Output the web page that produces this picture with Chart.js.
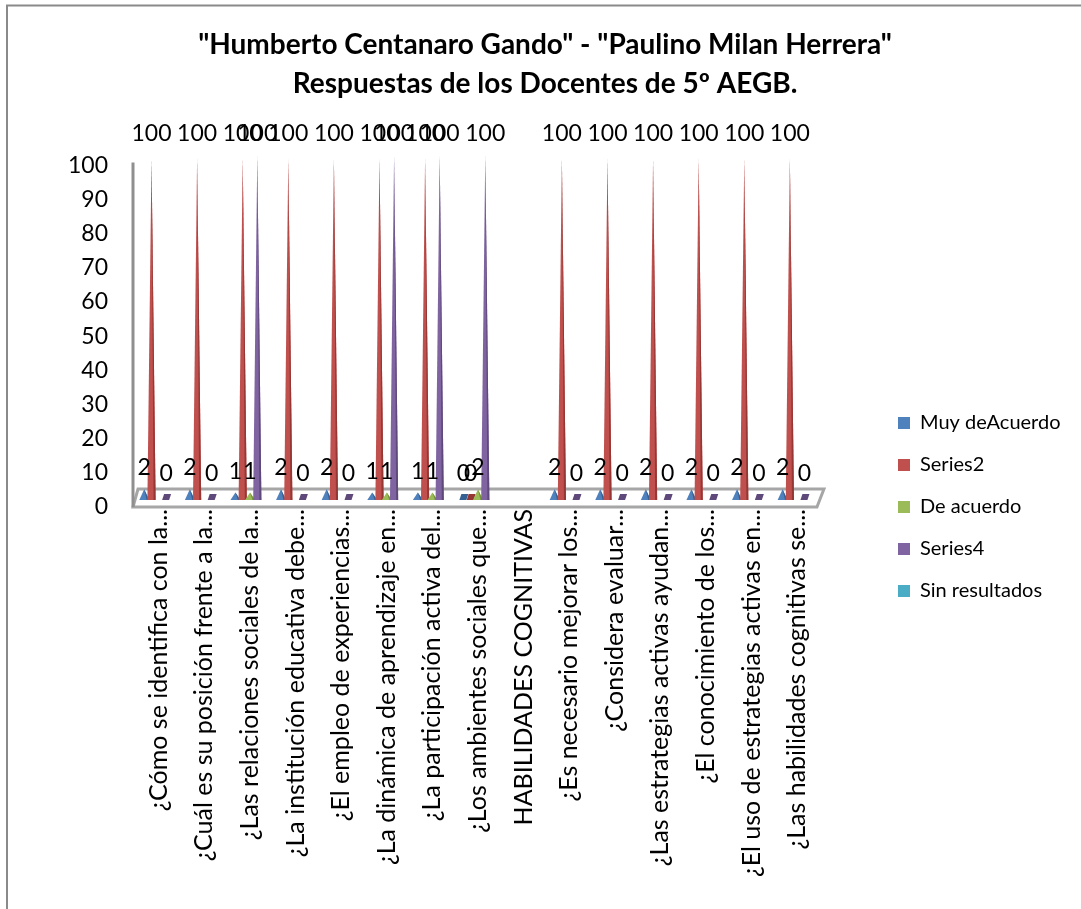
<!DOCTYPE html>
<html><head><meta charset="utf-8">
<style>html,body{margin:0;padding:0;background:#fff}canvas{display:block}</style>
<script src="https://cdn.jsdelivr.net/npm/chart.js@4"></script></head>
<body><div style="width:1081px;height:909px"><canvas id="c"></canvas></div>
<script>
const categories=["¿Cómo se identifica con la...","¿Cuál es su posición frente a la...","¿Las relaciones sociales de la...","¿La institución educativa debe...","¿El empleo de experiencias...","¿La dinámica de aprendizaje en...","¿La participación activa del...","¿Los ambientes sociales que...","HABILIDADES COGNITIVAS","¿Es necesario mejorar los...","¿Considera evaluar...","¿Las estrategias activas ayudan...","¿El conocimiento de los...","¿El uso de estrategias activas en...","¿Las habilidades cognitivas se..."];
const muyDeAcuerdo=[2,2,1,2,2,1,1,0,null,2,2,2,2,2,2];
const series2=[100,100,100,100,100,100,100,0,null,100,100,100,100,100,100];
const deAcuerdo=[null,null,1,null,null,1,1,2,null,null,null,null,null,null,null];
const series4=[0,0,100,0,0,100,100,100,null,0,0,0,0,0,0];
const sinResultados=[null,null,null,null,null,null,null,null,null,null,null,null,null,null,null];
const seriesNames=["Muy deAcuerdo","Series2","De acuerdo","Series4","Sin resultados"];
const colors=["#4F81BD","#C0504D","#9BBB59","#8064A2","#4BACC6"];
const darks=["#376092","#953735","#76923C","#5F497A","#31859C"];
const titleLines=['"Humberto Centanaro Gando" - "Paulino Milan Herrera"','Respuestas de los Docentes de 5º AEGB.'];
const FONT='Lato, Carlito, sans-serif';
const DEPTH=7;
const spikes={id:'spikes',
 beforeDraw(ch){const c=ch.ctx;c.save();c.fillStyle='#fff';c.fillRect(0,0,ch.width,ch.height);
  c.strokeStyle='#8a8a8a';c.lineWidth=2;c.beginPath();c.moveTo(7,ch.height);c.lineTo(7,5.5);c.lineTo(ch.width,5.5);c.stroke();c.restore();},
 beforeDatasetsDraw(ch){const c=ch.ctx,a=ch.chartArea,y0=ch.scales.y.getPixelForValue(0),yT=ch.scales.y.getPixelForValue(100);
  c.save();c.strokeStyle='#a6a6a6';c.lineWidth=3;c.fillStyle='#fff';c.beginPath();
  c.moveTo(a.left-3,y0);c.lineTo(a.right-3,y0);c.lineTo(a.right+4,y0-18);c.lineTo(a.left+2,y0-18);c.closePath();c.fill();c.stroke();
  c.strokeStyle='#8f8f8f';c.beginPath();c.moveTo(a.left-3,y0);c.lineTo(a.left-3,yT-3);c.stroke();c.restore();},
 beforeDatasetDraw(){return false;},
 afterDatasetsDraw(ch){const c=ch.ctx;c.save();
  ch.data.datasets.forEach((d,i)=>{ch.getDatasetMeta(i).data.forEach((el,j)=>{const v=d.data[j];if(v==null)return;
    const x=el.x,b=el.base-DEPTH,t=el.y-DEPTH-(i===3?3:0),small=v<10,w=el.width*(small?1.5:1.25);
    if(v===0){c.fillStyle=darks[i];c.beginPath();c.moveTo(x-4,b);c.lineTo(x+3,b);c.lineTo(x+5,b-6);c.lineTo(x-2,b-6);c.closePath();c.fill();return;}
    const top=t-(small?4:0);
    c.fillStyle=colors[i];c.beginPath();c.moveTo(x-w/2,b);c.lineTo(x,top);c.lineTo(x+w/2,b);c.closePath();c.fill();
    c.fillStyle=darks[i];c.beginPath();c.moveTo(x+w/4,b);c.lineTo(x,top);c.lineTo(x+w/2,b);c.closePath();c.fill();
  });});
  c.fillStyle='#000';c.font='23px '+FONT;c.textAlign='center';c.textBaseline='middle';
  ch.data.datasets.forEach((d,i)=>{ch.getDatasetMeta(i).data.forEach((el,j)=>{const v=d.data[j];if(v==null)return;
    c.fillText(String(v),el.x,el.y-DEPTH-(v===2?26:v===0?26:25));});});
  c.restore();},
 afterLayout(ch){const l=ch.legend;const dx=876-l.left;l.left+=dx;l.right+=dx;const dy=(507-(l.top+l.bottom)/2);l.top+=dy;l.bottom+=dy;
  const t=ch.titleBlock;t.left=7;t.right=1083;}
};
new Chart(document.getElementById('c'),{type:'bar',
 data:{labels:categories,datasets:seriesNames.map((n,i)=>({label:n,data:[muyDeAcuerdo,series2,deAcuerdo,series4,sinResultados][i],backgroundColor:colors[i]}))},
 plugins:[spikes],
 options:{responsive:true,maintainAspectRatio:false,animation:false,
  layout:{padding:{left:7,right:66.5,top:10,bottom:0}},
  plugins:{tooltip:{enabled:false},
   title:{display:true,text:titleLines,color:'#000',font:{family:FONT,size:28,weight:'bold',lineHeight:1.4},padding:{top:15,bottom:62}},
   legend:{position:'right',labels:{boxWidth:12,boxHeight:12,padding:22,color:'#000',font:{family:FONT,size:20}}}},
  scales:{
   x:{grid:{display:false,drawTicks:false},border:{display:false},
      ticks:{autoSkip:false,minRotation:90,maxRotation:90,color:'#000',padding:2,font:{family:FONT,size:25}},
      afterFit(s){s.height=402;}},
   y:{min:0,max:100,grid:{display:false,drawTicks:false},border:{display:false},
      ticks:{stepSize:10,color:'#000',padding:28,font:{family:FONT,size:23}},
      afterFit(s){s.width=129;}}}}
});
</script></body></html>
